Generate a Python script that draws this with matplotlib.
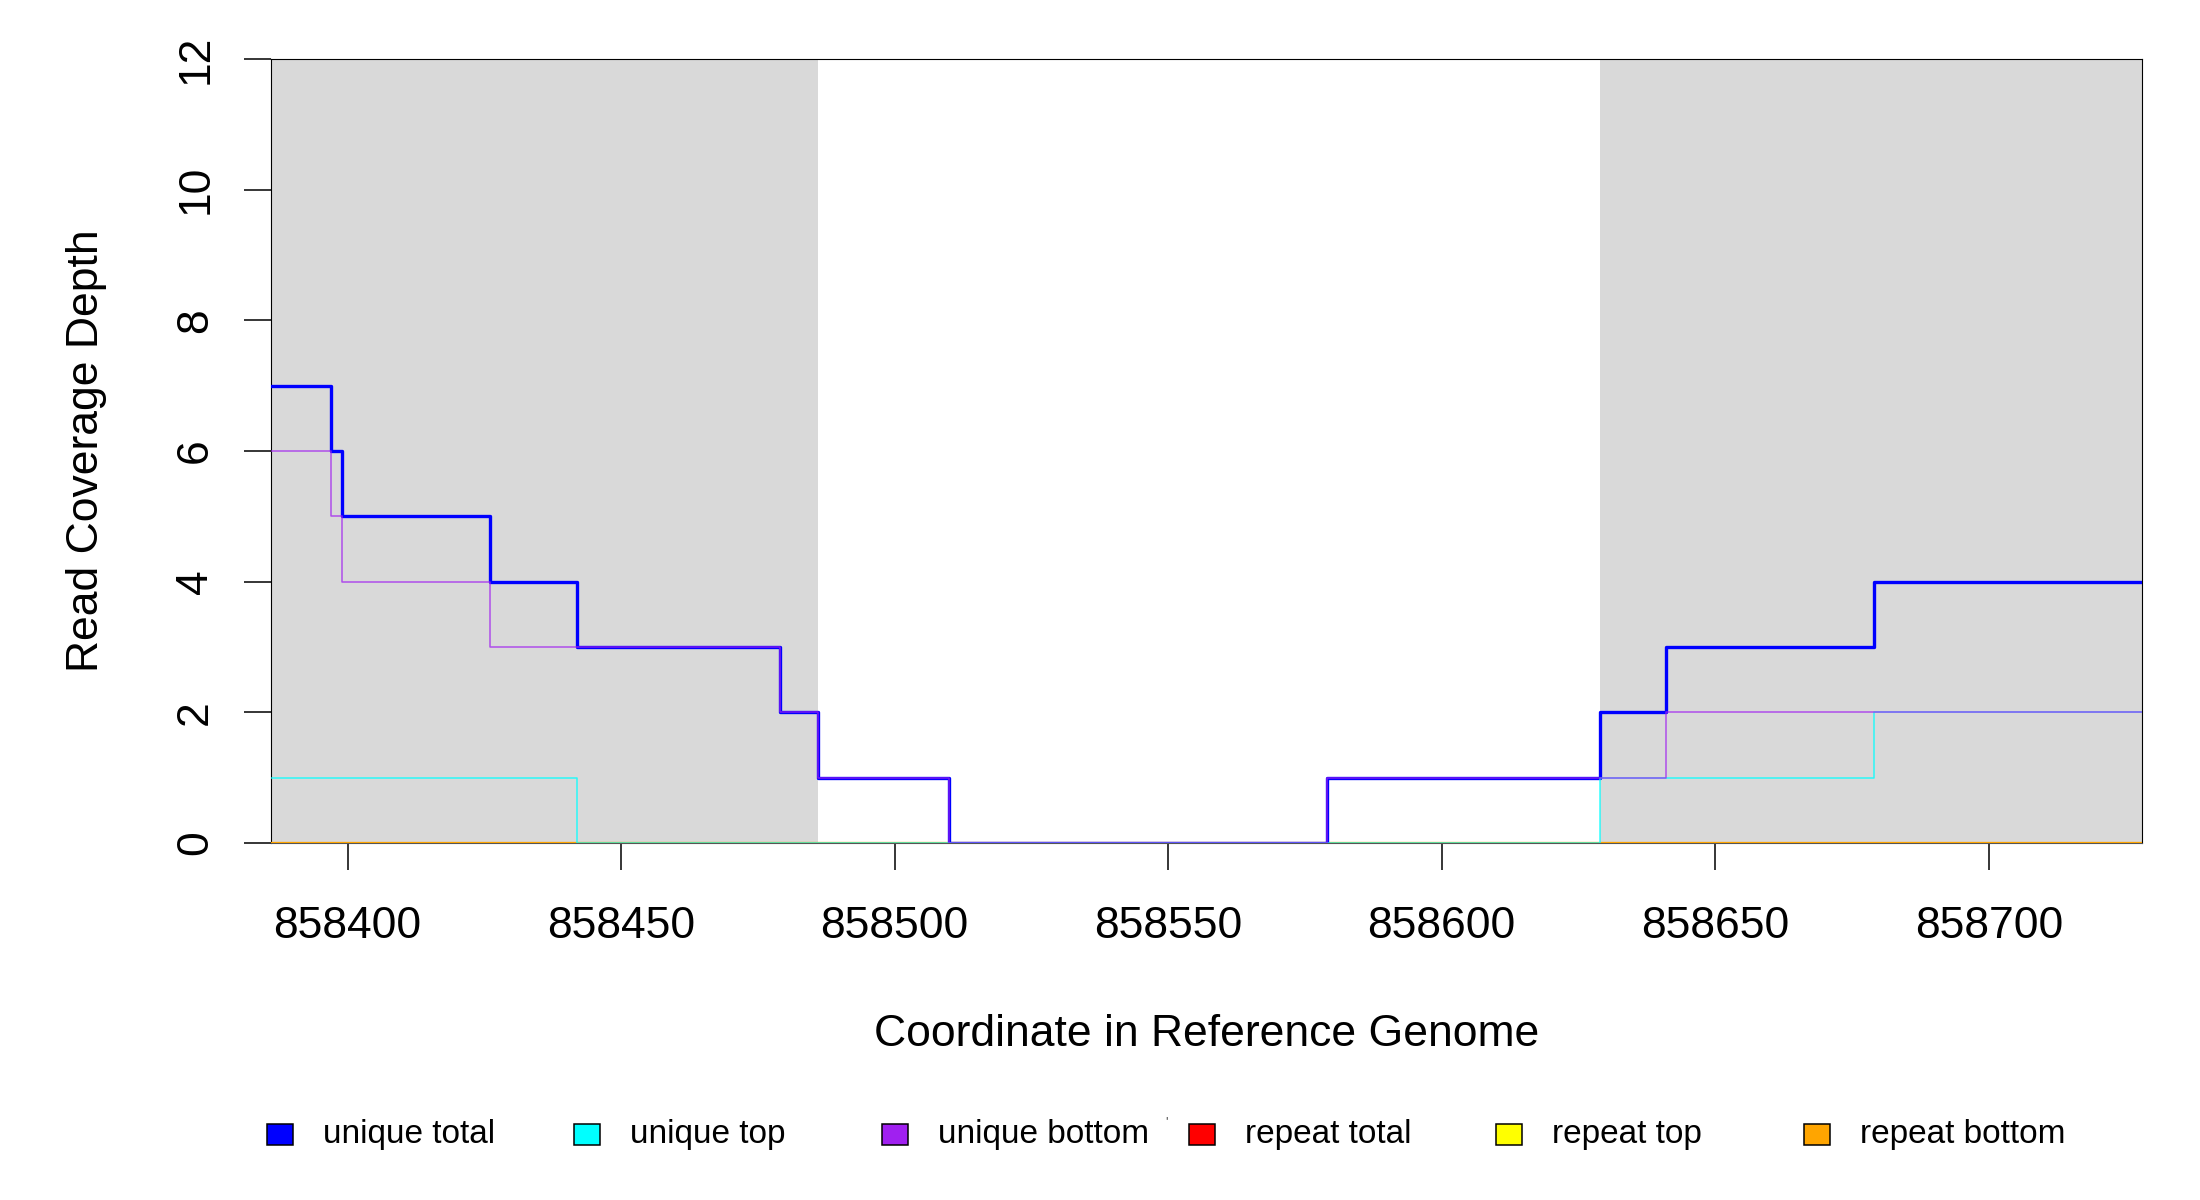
import numpy as np
from matplotlib import pyplot as plt
from matplotlib.patches import Rectangle

plt.rcParams['font.family'] = ['Liberation Sans', 'DejaVu Sans']

# coverage data (step breakpoints, value holds until next breakpoint)
x_start = 858386
x_end = 858728

total_edges = [858386, 858397, 858399, 858426, 858442, 858479, 858486,
               858510, 858579, 858629, 858641, 858679, 858728]
total_vals = [7, 6, 5, 4, 3, 2, 1, 0, 1, 2, 3, 4]

top_edges = [858386, 858442, 858629, 858679, 858728]
top_vals = [1, 0, 1, 2]

bottom_edges = [858386, 858397, 858399, 858426, 858479, 858486,
                858510, 858579, 858641, 858728]
bottom_vals = [6, 5, 4, 3, 2, 1, 0, 1, 2]

repeat_edges = [858386, 858728]
repeat_total_vals = [0]
repeat_top_vals = [0]
repeat_bottom_vals = [0]

# shaded regions
regions = [(858386, 858486), (858629, 858728)]

x_ticks = [858400, 858450, 858500, 858550, 858600, 858650, 858700]
y_ticks = [0, 2, 4, 6, 8, 10, 12]

legend_labels = ['unique total', 'unique top', 'unique bottom',
                 'repeat total', 'repeat top', 'repeat bottom']
legend_colors = ['#0000FF', '#00FFFF', '#A020F0', '#FF0000', '#FFFF00', '#FFA500']

W, H = 2200, 1200
L, R, T, B = 271, 2142, 59, 843
fig = plt.figure(figsize=(22, 12), dpi=100)
ax = fig.add_axes([L / W, 1 - B / H, (R - L) / W, (B - T) / H])


def step(edges, vals, **kw):
    xs = np.array(edges)
    ys = np.append(vals, vals[-1])
    ax.step(xs, ys, where='post', **kw)


for a, b in regions:
    ax.axvspan(a, b, color='#D9D9D9', lw=0, zorder=0)

step(repeat_edges, repeat_total_vals, color='#FF0000', lw=1.5, zorder=3)
step(repeat_edges, repeat_top_vals, color='#FFFF00', lw=1.5, zorder=3)
step(repeat_edges, repeat_bottom_vals, color='#FFA500', lw=1.5, zorder=3)
step(total_edges, total_vals, color='#0000FF', lw=2.4, zorder=4)
step(top_edges, top_vals, color='#00FFFF', lw=1.1, alpha=0.8, zorder=4)
step(bottom_edges, bottom_vals, color='#A020F0', lw=1.1, alpha=0.75, zorder=4)

ax.set_xlim(x_start, x_end)
ax.set_ylim(0, 12)
ax.set_xticks(x_ticks)
ax.set_xticklabels([str(t) for t in x_ticks])
ax.set_yticks(y_ticks)
ax.set_yticklabels([str(t) for t in y_ticks], rotation=90, va='center')
ax.tick_params(axis='both', length=19.5, width=1.1, labelsize=32,
               direction='out', color='black')
ax.tick_params(axis='x', pad=26)
ax.tick_params(axis='y', pad=20)

for s in ax.spines.values():
    s.set_linewidth(0.8)
    s.set_color('black')
ax.spines['bottom'].set_color('#555555')

ax.set_xlabel('Coordinate in Reference Genome', fontsize=32, va='center')
ax.xaxis.set_label_coords(0.5, (B - 1034) / (B - T))
ax.set_ylabel('Read Coverage Depth', fontsize=32, va='center')
ax.yaxis.set_label_coords((87 - L) / (R - L), 0.5)

# legend along the bottom, evenly spaced like the original
x0 = 280
dx = 307.3
yc = 1134
for i, (lab, col) in enumerate(zip(legend_labels, legend_colors)):
    cx = x0 + i * dx
    fig.add_artist(Rectangle(((cx - 13) / W, 1 - (yc + 10.5) / H), 26 / W, 21 / H,
                             facecolor=col, edgecolor='black', lw=1.1,
                             transform=fig.transFigure))
    fig.text((cx + 43) / W, 1 - yc / H, lab, fontsize=24, va='center', ha='left')

fig.text(1166 / W, 1 - 1122 / H, "'", fontsize=9, color='#444444', ha='center', va='center')

fig.savefig('out.png', dpi=100)
